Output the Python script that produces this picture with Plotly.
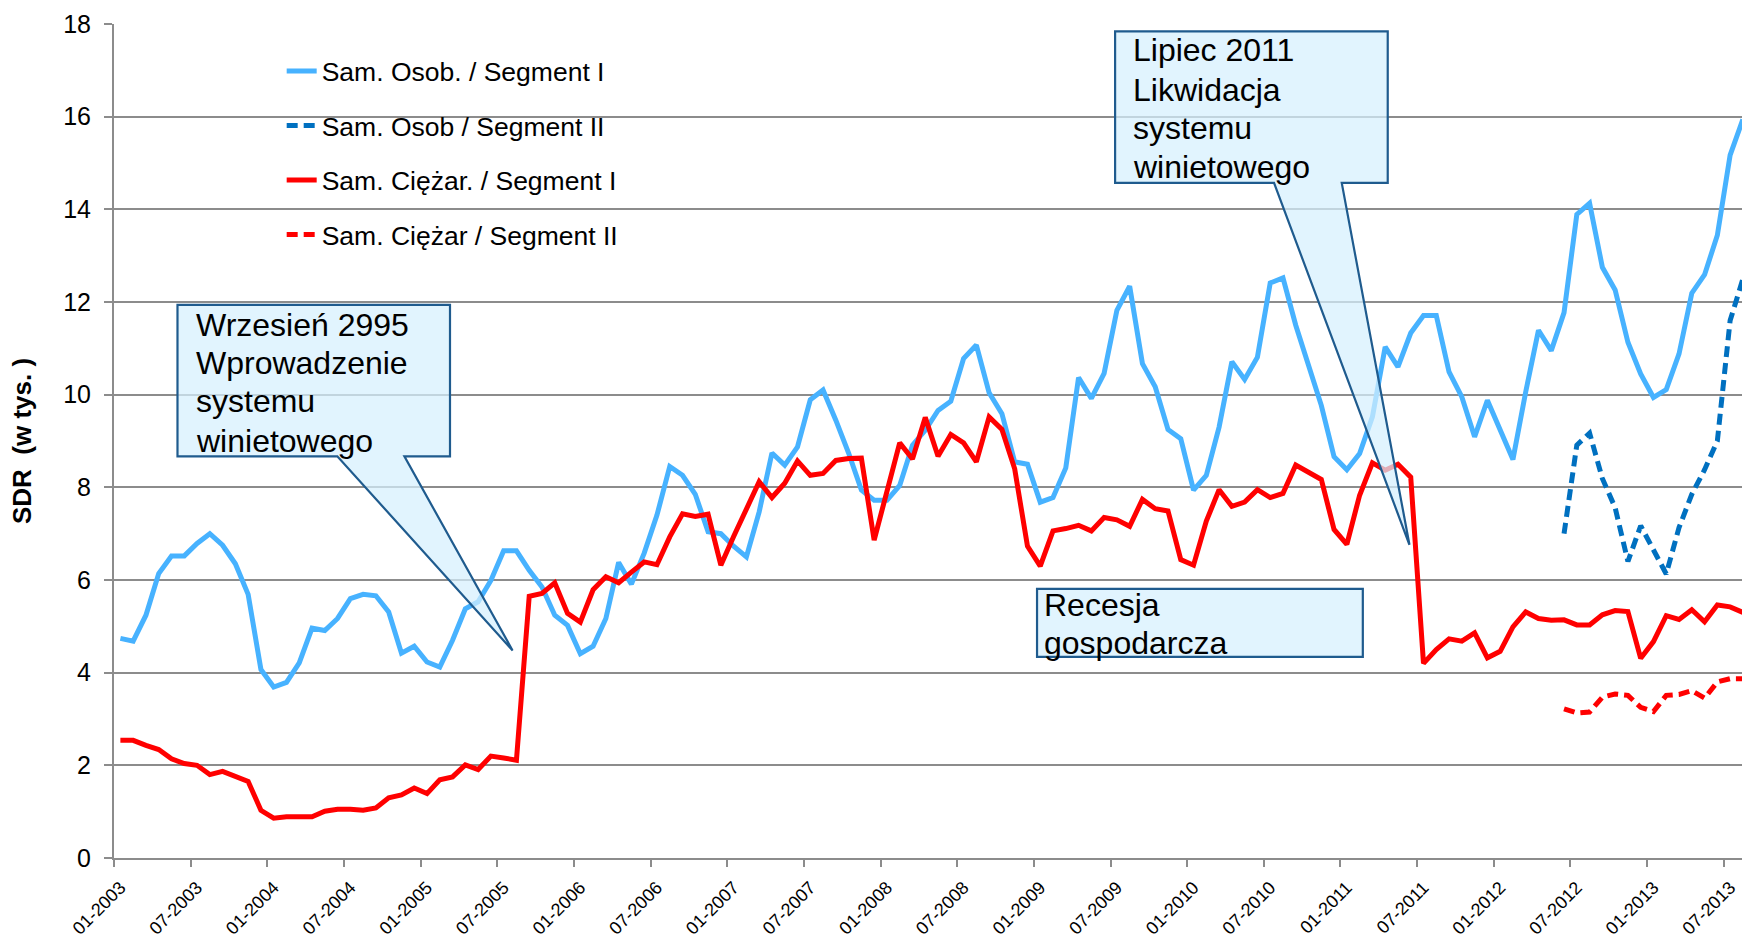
import plotly.graph_objects as go

# ---------------- data ----------------
years = list(range(2003, 2014))
months = [f"{m:02d}-{y}" for y in years for m in range(1, 13)][:128]   # 01-2003 .. 08-2013

osob_seg1 = [4.74, 4.68, 5.24, 6.14, 6.52, 6.52, 6.79, 7.00, 6.75, 6.35, 5.69, 4.07,
             3.69, 3.79, 4.21, 4.96, 4.91, 5.17, 5.60, 5.69, 5.66, 5.31, 4.42, 4.57,
             4.23, 4.12, 4.70, 5.38, 5.53, 5.99, 6.63, 6.63, 6.21, 5.85, 5.24, 5.02,
             4.41, 4.57, 5.17, 6.38, 5.91, 6.58, 7.40, 8.45, 8.26, 7.85, 7.04, 7.00,
             6.73, 6.50, 7.47, 8.74, 8.48, 8.87, 9.89, 10.10, 9.45, 8.74, 7.94, 7.72,
             7.72, 8.04, 8.91, 9.23, 9.66, 9.86, 10.78, 11.07, 10.04, 9.59, 8.55, 8.50,
             7.68, 7.78, 8.42, 10.37, 9.92, 10.46, 11.82, 12.34, 10.67, 10.17, 9.25, 9.05,
             7.94, 8.26, 9.30, 10.71, 10.33, 10.81, 12.41, 12.52, 11.50, 10.67, 9.77, 8.66,
             8.38, 8.73, 9.52, 11.03, 10.60, 11.33, 11.71, 11.71, 10.49, 9.95, 9.09, 9.88,
             9.27, 8.60, 10.06, 11.39, 10.95, 11.77, 13.89, 14.13, 12.75, 12.26, 11.13, 10.45,
             9.94, 10.11, 10.88, 12.19, 12.59, 13.44, 15.17, 15.94]

ciez_seg1 = [2.54, 2.54, 2.43, 2.34, 2.14, 2.04, 2.00, 1.80, 1.87, 1.76, 1.65, 1.03,
             0.86, 0.89, 0.89, 0.89, 1.01, 1.05, 1.05, 1.03, 1.08, 1.30, 1.36, 1.51,
             1.39, 1.69, 1.75, 2.01, 1.91, 2.20, 2.16, 2.11, 5.65, 5.71, 5.94, 5.28,
             5.09, 5.79, 6.07, 5.94, 6.17, 6.39, 6.33, 6.93, 7.43, 7.37, 7.42, 6.32,
             6.94, 7.56, 8.12, 7.78, 8.09, 8.57, 8.26, 8.30, 8.58, 8.62, 8.63, 6.86,
             7.90, 8.96, 8.61, 9.51, 8.67, 9.14, 8.96, 8.55, 9.52, 9.25, 8.40, 6.73,
             6.30, 7.06, 7.11, 7.18, 7.06, 7.35, 7.30, 7.16, 7.74, 7.54, 7.49, 6.44,
             6.32, 7.27, 7.95, 7.59, 7.68, 7.95, 7.78, 7.87, 8.48, 8.31, 8.17, 7.09,
             6.77, 7.83, 8.53, 8.37, 8.50, 8.22, 4.20, 4.50, 4.73, 4.68, 4.86, 4.32,
             4.46, 4.99, 5.31, 5.17, 5.13, 5.14, 5.03, 5.03, 5.25, 5.34, 5.32, 4.31,
             4.67, 5.23, 5.15, 5.36, 5.10, 5.46, 5.42, 5.30]

seg2_start = "06-2012"
osob_seg2 = [7.00, 8.91, 9.17, 8.19, 7.56, 6.40, 7.17, 6.65, 6.13, 7.13, 7.85, 8.38,
             9.00, 11.60, 12.50]
ciez_seg2 = [3.22, 3.13, 3.15, 3.47, 3.54, 3.51, 3.25, 3.16, 3.51, 3.53, 3.61, 3.45,
             3.80, 3.87, 3.87]

series_names = ["Sam. Osob. / Segment I", "Sam. Osob / Segment II",
                "Sam. Ciężar. / Segment I", "Sam. Ciężar / Segment II"]

callout_texts = [
    ["Wrzesień 2995", "Wprowadzenie", "systemu", "winietowego"],
    ["Lipiec 2011", "Likwidacja", "systemu", "winietowego"],
    ["Recesja", "gospodarcza"],
]

# ---------------- build ----------------
FONT = "Liberation Sans, Arial, sans-serif"
LIGHT = "#47B2FF"
DARK = "#0070C0"
RED = "#FF0000"
GRID = "#8C8C8C"

x_all = list(range(len(months)))
s2 = months.index(seg2_start)
x_seg2 = x_all[s2:s2 + len(osob_seg2)]

fig = go.Figure()
specs = [
    (series_names[0], x_all, osob_seg1, LIGHT, "solid"),
    (series_names[1], x_seg2, osob_seg2, DARK, "11px,6px"),
    (series_names[2], x_all, ciez_seg1, RED, "solid"),
    (series_names[3], x_seg2, ciez_seg2, RED, "11px,6px"),
]
for i, (name, xs, ys, col, dash) in enumerate(specs):
    fig.add_trace(go.Scatter(x=xs, y=ys, name=name, mode="lines",
                             line=dict(color=col, width=5, dash=dash),
                             legendgroup=f"g{i}"))

tick_idx = [i for i, m in enumerate(months) if m[:2] in ("01", "07")]
tick_txt = [months[i] for i in tick_idx]
boundaries = [i - 0.5 for i in tick_idx]

BOX_FILL = "rgba(214,240,253,0.72)"
BOX_LINE = "#1F5B8E"


def callout(x0, x1, y0, y1, pointer=None):
    if pointer:
        bl, br, tx, ty = pointer
        path = (f"M{x0},{y1} L{x1},{y1} L{x1},{y0} L{br},{y0} L{tx},{ty} "
                f"L{bl},{y0} L{x0},{y0} Z")
    else:
        path = f"M{x0},{y1} L{x1},{y1} L{x1},{y0} L{x0},{y0} Z"
    return dict(type="path", path=path, xref="x", yref="y", layer="above",
                fillcolor=BOX_FILL, line=dict(color=BOX_LINE, width=2.2))


shapes = [
    callout(4.47, 25.8, 8.67, 11.94, (16.98, 22.23, 30.7, 4.48)),
    callout(77.86, 99.2, 14.57, 17.84, (90.3, 95.6, 100.9, 6.76)),
    callout(71.75, 97.25, 4.34, 5.81),
]

# text line placement (left x, line centres in data units)
text_pos = [
    (5.75, [11.51, 10.69, 9.86, 9.01]),
    (79.1, [17.43, 16.58, 15.75, 14.91]),
    (72.15, [5.45, 4.63]),
]
annotations = []
for lines, (tx, tys) in zip(callout_texts, text_pos):
    for line, ty in zip(lines, tys):
        annotations.append(dict(x=tx, y=ty, xref="x", yref="y", xanchor="left",
                                yanchor="middle", showarrow=False, text=line,
                                font=dict(family=FONT, size=32, color="black")))

fig.update_layout(
    width=1742, height=942,
    margin=dict(l=114, r=0, t=24, b=84, pad=0, autoexpand=False),
    paper_bgcolor="white", plot_bgcolor="white",
    font=dict(family=FONT, color="black"),
    showlegend=True,
    legend=dict(x=0.103, y=0.972, xanchor="left", yanchor="top",
                bgcolor="rgba(0,0,0,0)", font=dict(family=FONT, size=26.5),
                tracegroupgap=17, traceorder="grouped"),
    shapes=shapes,
    annotations=annotations,
)

fig.update_xaxes(
    range=[-0.5, 126.93], tickmode="array", tickvals=tick_idx, ticktext=tick_txt,
    tickangle=-45, ticks="", tickfont=dict(size=18, family=FONT, color="black"),
    ticklabelstandoff=10, automargin=False,
    showline=True, linecolor=GRID, linewidth=2, showgrid=False, zeroline=False,
    minor=dict(tickmode="array", tickvals=boundaries, ticks="outside", ticklen=7,
               tickwidth=2, tickcolor=GRID, showgrid=False),
)
fig.update_yaxes(
    range=[0, 18], dtick=2, tick0=0, automargin=False,
    showgrid=True, gridcolor=GRID, gridwidth=2, zeroline=False,
    showline=True, linecolor=GRID, linewidth=2,
    ticks="outside", ticklen=8, tickwidth=2, tickcolor=GRID,
    tickfont=dict(size=25, family=FONT, color="black"),
    ticklabelstandoff=8,
    title=dict(text="<b>SDR \u00a0(w tys. )</b>", font=dict(size=26, family=FONT),
               standoff=24),
)

fig.write_html(
    "out.html",
    config={"displayModeBar": False},
    post_script="document.body.style.margin='0';document.body.style.overflow='hidden';",
)
